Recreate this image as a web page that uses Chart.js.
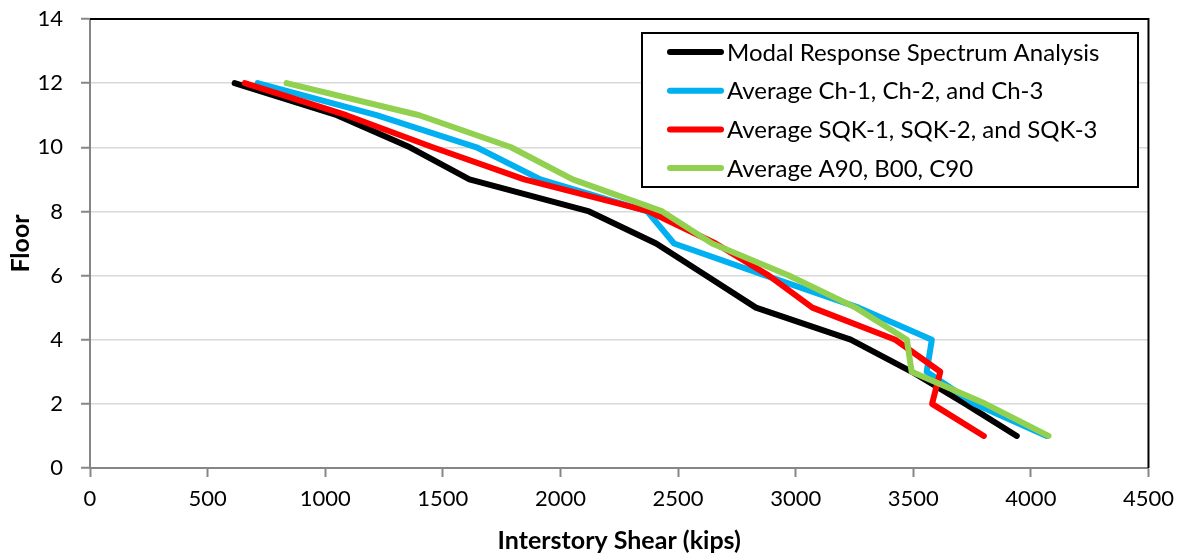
<!DOCTYPE html>
<html>
<head>
<meta charset="utf-8">
<title>Interstory Shear by Floor</title>
<script src="https://cdn.jsdelivr.net/npm/chart.js@4/dist/chart.umd.min.js"></script>
<style>
  html, body { margin: 0; padding: 0; background: #fff; }
  #wrap { width: 1183px; height: 558px; position: relative; }
</style>
</head>
<body>
<div id="wrap"><canvas id="shear"></canvas></div>
<script>
// Floor levels and the interstory shear (kips) at each one
const floors      = [1, 2, 3, 4, 5, 6, 7, 8, 9, 10, 11, 12];
const modalShear  = [3940, 3722, 3494, 3234, 2831, 2619, 2407, 2122, 1613, 1360, 1050, 615];
const chShear     = [4067, 3760, 3557, 3579, 3268, 2873, 2483, 2369, 1915, 1643, 1218, 713];
const sqkShear    = [3800, 3580, 3615, 3424, 3071, 2886, 2660, 2377, 1846, 1457, 1090, 658];
const a90Shear    = [4075, 3807, 3493, 3473, 3255, 2971, 2645, 2433, 2052, 1790, 1400, 836];

const seriesNames = [
  'Modal Response Spectrum Analysis',
  'Average Ch-1, Ch-2, and Ch-3',
  'Average SQK-1, SQK-2, and SQK-3',
  'Average A90, B00, C90',
];
const seriesColors = ['#000000', '#00b0f0', '#ff0000', '#92d050'];

const xTicks = [0, 500, 1000, 1500, 2000, 2500, 3000, 3500, 4000, 4500];
const yTicks = [0, 2, 4, 6, 8, 10, 12, 14];

const FONT = 'Lato, "Open Sans", sans-serif';
const AXIS_GRAY = '#868686';

function toPoints(values) {
  return values.map((v, i) => ({ x: v, y: floors[i] }));
}

const datasets = [modalShear, chShear, sqkShear, a90Shear].map((vals, i) => ({
  label: seriesNames[i],
  data: toPoints(vals),
  borderColor: seriesColors[i],
  backgroundColor: seriesColors[i],
  borderWidth: 6,
  borderCapStyle: 'round',
  borderJoinStyle: 'round',
  pointRadius: 0,
  tension: 0,
  // later series sit on top
  order: 4 - i,
}));

// Black frame on the top and right edges of the plot area
const frameEdges = {
  id: 'frameEdges',
  beforeDatasetsDraw(chart) {
    const { ctx, chartArea: a } = chart;
    ctx.save();
    ctx.strokeStyle = '#000';
    ctx.lineWidth = 2;
    ctx.beginPath();
    ctx.moveTo(a.left, a.top);
    ctx.lineTo(a.right, a.top);
    ctx.lineTo(a.right, a.bottom);
    ctx.stroke();
    ctx.restore();
  },
};

// Boxed legend in the upper right of the plot
const boxedLegend = {
  id: 'boxedLegend',
  afterDraw(chart) {
    const { ctx } = chart;
    const box = { x: 642, y: 33, w: 496, h: 154 };
    ctx.save();
    ctx.fillStyle = '#fff';
    ctx.fillRect(box.x, box.y, box.w, box.h);
    ctx.strokeStyle = '#000';
    ctx.lineWidth = 2;
    ctx.strokeRect(box.x, box.y, box.w, box.h);

    ctx.font = '24px ' + FONT;
    ctx.textBaseline = 'middle';
    ctx.textAlign = 'left';
    chart.data.datasets.forEach((ds, i) => {
      const y = 52 + i * 38.7;
      ctx.strokeStyle = ds.borderColor;
      ctx.lineWidth = 6;
      ctx.lineCap = 'round';
      ctx.beginPath();
      ctx.moveTo(670, y);
      ctx.lineTo(721, y);
      ctx.stroke();
      ctx.fillStyle = '#000';
      ctx.fillText(ds.label, 727, y + 1);
    });
    ctx.restore();
  },
};

new Chart(document.getElementById('shear'), {
  type: 'line',
  data: { datasets },
  options: {
    responsive: true,
    maintainAspectRatio: false,
    animation: false,
    layout: { padding: { top: 19, right: 33, bottom: 0, left: 0 } },
    plugins: {
      legend: { display: false },
      tooltip: { enabled: false },
    },
    scales: {
      x: {
        type: 'linear',
        min: 0,
        max: 4500,
        afterBuildTicks(scale) { scale.ticks = xTicks.map(v => ({ value: v })); },
        afterFit(scale) { scale.height = 90; },
        border: { color: AXIS_GRAY, width: 2 },
        grid: {
          drawOnChartArea: false,
          drawTicks: true,
          tickLength: 9,
          tickColor: AXIS_GRAY,
          tickWidth: 2,
        },
        ticks: {
          color: '#000',
          padding: 9,
          maxRotation: 0,
          font: { family: FONT, size: 22 },
          callback: v => String(v),
        },
        title: {
          display: true,
          text: 'Interstory Shear (kips)',
          color: '#000',
          padding: { top: 0, bottom: 2 },
          font: { family: FONT, size: 25, weight: 'bold' },
        },
      },
      y: {
        type: 'linear',
        min: 0,
        max: 14,
        afterBuildTicks(scale) { scale.ticks = yTicks.map(v => ({ value: v })); },
        afterFit(scale) {
          scale.width = 90;
          // keep the tick padding from pushing the plot top down
          scale.paddingTop = 0;
          scale.paddingBottom = 0;
        },
        border: { color: AXIS_GRAY, width: 2 },
        grid: {
          color: ctx => (ctx.tick && ctx.tick.value === 14 ? '#000' : '#d9d9d9'),
          lineWidth: 1.5,
          drawTicks: true,
          tickLength: 9,
          tickColor: AXIS_GRAY,
          tickWidth: 2,
        },
        ticks: {
          color: '#000',
          padding: 18,
          font: { family: FONT, size: 22 },
          callback: v => String(v),
        },
        title: {
          display: true,
          text: 'Floor',
          color: '#000',
          padding: { top: 6, bottom: 0 },
          font: { family: FONT, size: 25, weight: 'bold' },
        },
      },
    },
  },
  plugins: [frameEdges, boxedLegend],
});
</script>
</body>
</html>
